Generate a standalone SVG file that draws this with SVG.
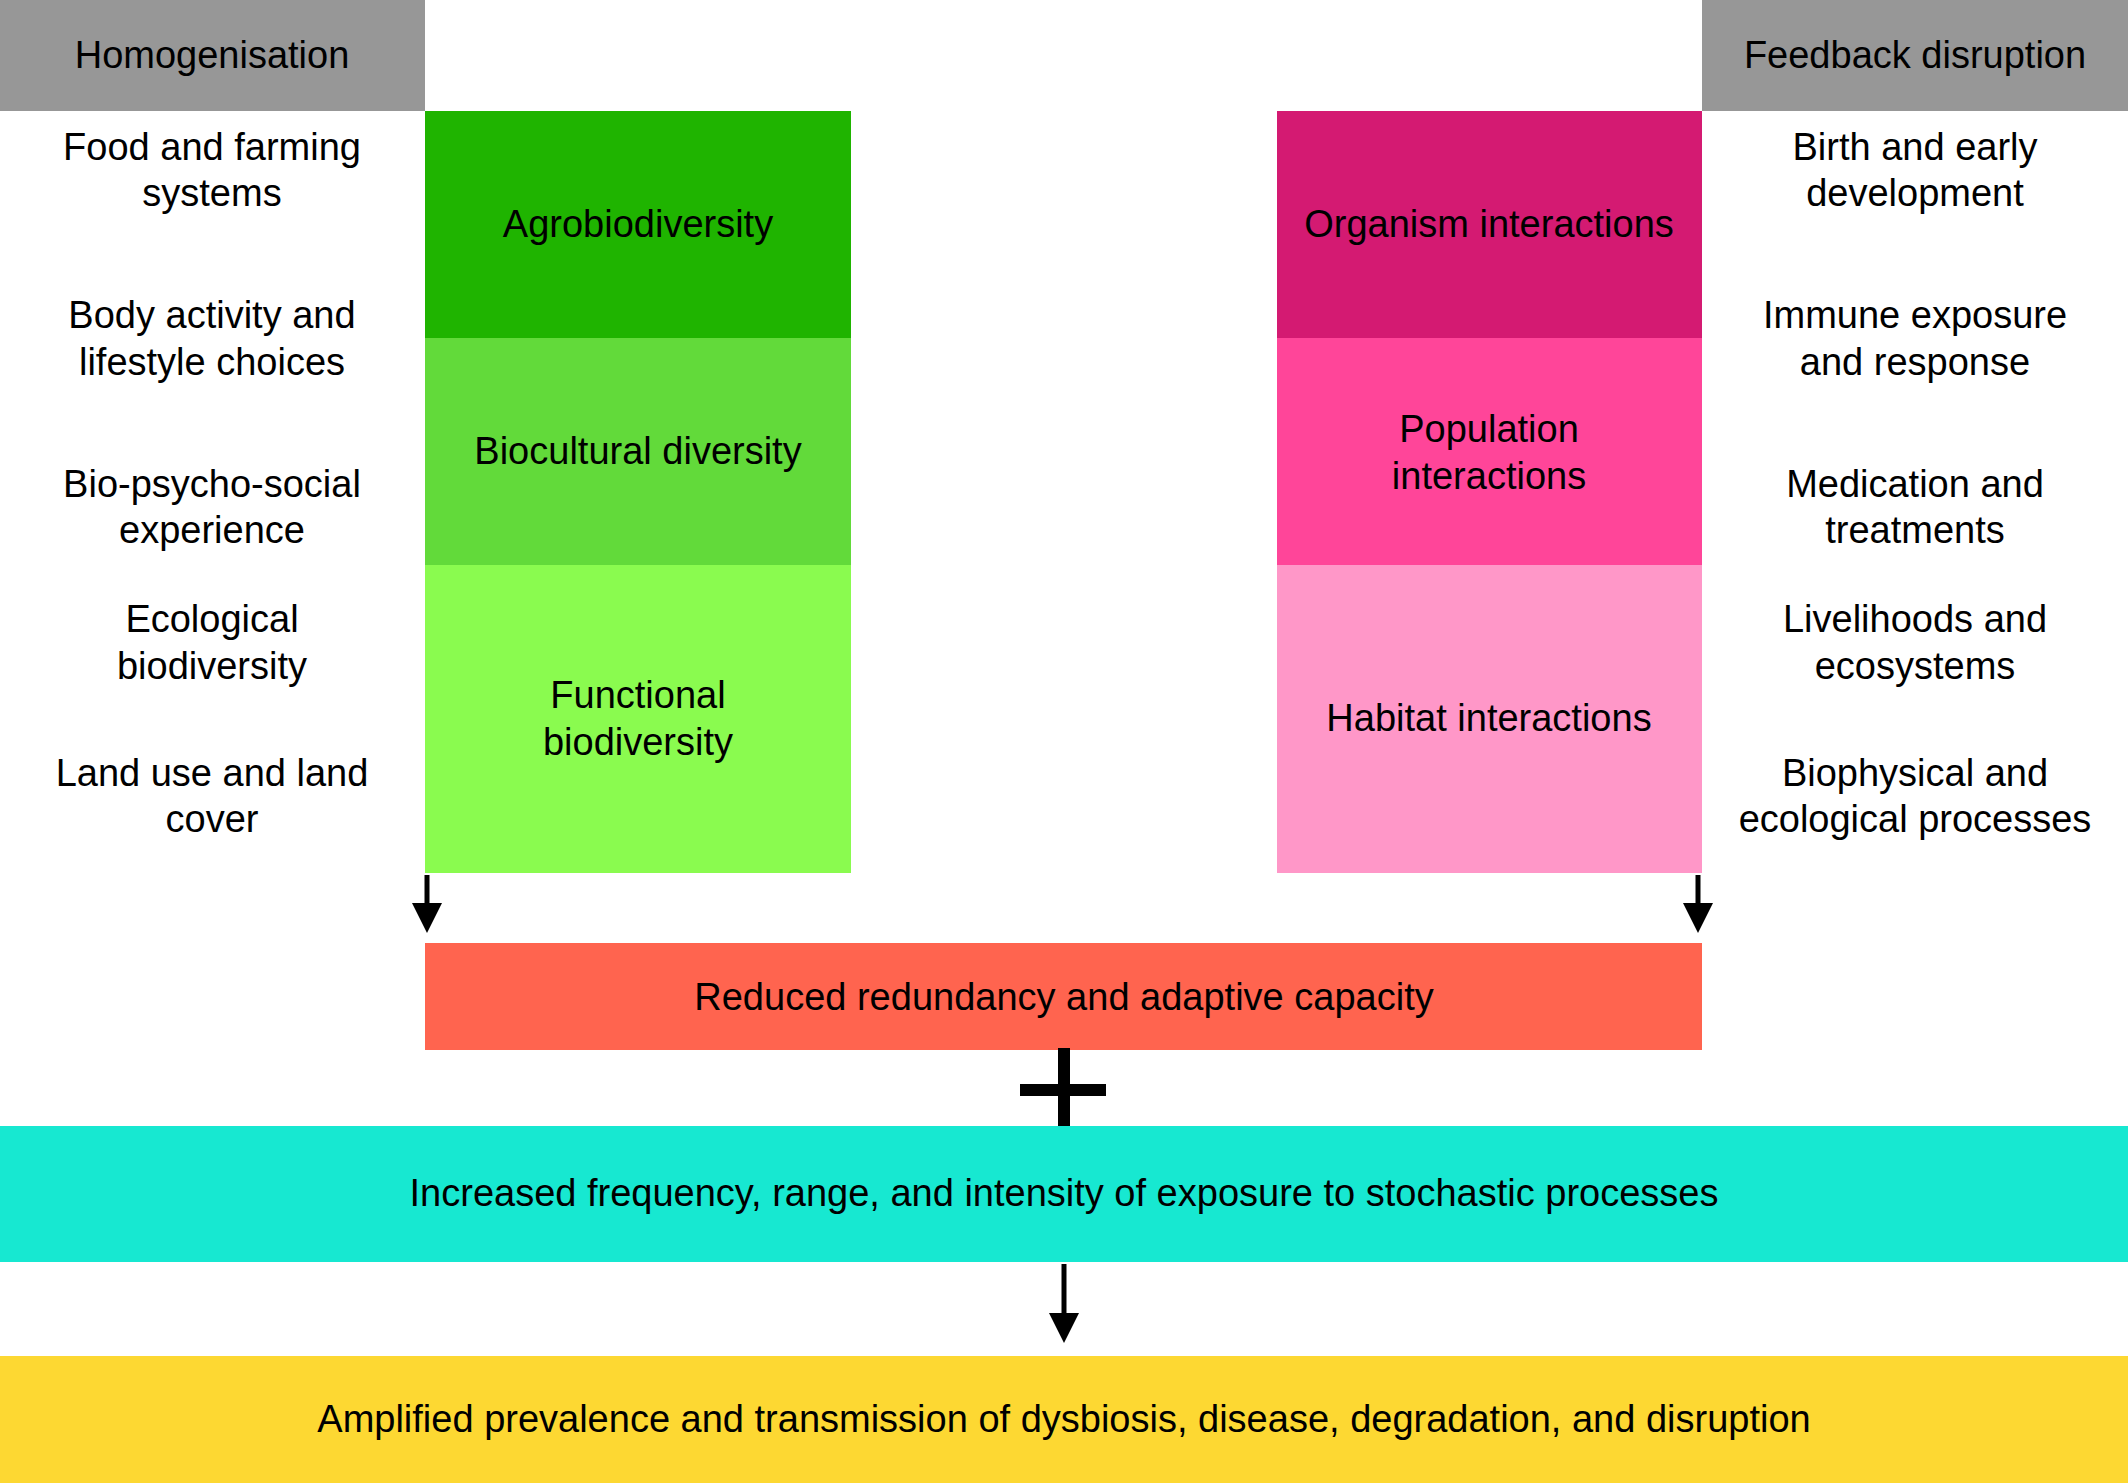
<svg xmlns="http://www.w3.org/2000/svg" width="2128" height="1483" viewBox="0 0 2128 1483">
<style>
text{font-family:"Liberation Sans",Arial,sans-serif;font-size:38px;fill:#000;text-anchor:middle}
.ln{stroke:#000;stroke-width:5;fill:none}
</style>
<defs><marker id="ah" markerWidth="6" markerHeight="6" refX="3" refY="3" orient="auto" markerUnits="strokeWidth"><path d="M0,0 L6,3 L0,6 z" fill="#000"/></marker></defs>
<rect width="2128" height="1483" fill="#fff"/>
<g id="hdr-left"><rect x="0" y="0" width="425" height="111" fill="#979797"/><text x="212" y="68">Homogenisation</text></g>
<g id="hdr-right"><rect x="1702" y="0" width="426" height="111" fill="#979797"/><text x="1915" y="68">Feedback disruption</text></g>
<g id="left-labels">
<text x="212" y="160">Food and farming</text><text x="212" y="206">systems</text>
<text x="212" y="328">Body activity and</text><text x="212" y="375">lifestyle choices</text>
<text x="212" y="497">Bio-psycho-social</text><text x="212" y="543">experience</text>
<text x="212" y="632">Ecological</text><text x="212" y="679">biodiversity</text>
<text x="212" y="786">Land use and land</text><text x="212" y="832">cover</text>
</g>
<g id="right-labels">
<text x="1915" y="160">Birth and early</text><text x="1915" y="206">development</text>
<text x="1915" y="328">Immune exposure</text><text x="1915" y="375">and response</text>
<text x="1915" y="497">Medication and</text><text x="1915" y="543">treatments</text>
<text x="1915" y="632">Livelihoods and</text><text x="1915" y="679">ecosystems</text>
<text x="1915" y="786">Biophysical and</text><text x="1915" y="832">ecological processes</text>
</g>
<g id="agro"><rect x="425" y="111" width="426" height="227" fill="#1fb400"/><text x="638" y="237">Agrobiodiversity</text></g>
<g id="biocult"><rect x="425" y="338" width="426" height="227" fill="#62da3a"/><text x="638" y="464">Biocultural diversity</text></g>
<g id="func"><rect x="425" y="565" width="426" height="308" fill="#8afb4f"/><text x="638" y="708">Functional</text><text x="638" y="755">biodiversity</text></g>
<g id="org"><rect x="1277" y="111" width="425" height="227" fill="#d41a72"/><text x="1489" y="237">Organism interactions</text></g>
<g id="pop"><rect x="1277" y="338" width="425" height="227" fill="#ff4599"/><text x="1489" y="442">Population</text><text x="1489" y="489">interactions</text></g>
<g id="hab"><rect x="1277" y="565" width="425" height="308" fill="#ff97c8"/><text x="1489" y="731">Habitat interactions</text></g>
<g id="reduced"><rect x="425" y="943" width="1277" height="107" fill="#ff644f"/><text x="1064" y="1010">Reduced redundancy and adaptive capacity</text></g>
<g id="plus"><rect x="1020" y="1084" width="86" height="12" fill="#000"/><rect x="1058" y="1048" width="12" height="84" fill="#000"/></g>
<g id="increased"><rect x="0" y="1126" width="2128" height="136" fill="#17e8d1"/><text x="1064" y="1206">Increased frequency, range, and intensity of exposure to stochastic processes</text></g>
<g id="amplified"><rect x="0" y="1356" width="2128" height="127" fill="#fdd832"/><text x="1064" y="1432">Amplified prevalence and transmission of dysbiosis, disease, degradation, and disruption</text></g>
<g id="connectors">
<line class="ln" x1="427" y1="875" x2="427" y2="918" marker-end="url(#ah)"/>
<line class="ln" x1="1698" y1="875" x2="1698" y2="918" marker-end="url(#ah)"/>
<line class="ln" x1="1064" y1="1264" x2="1064" y2="1328" marker-end="url(#ah)"/>
</g>
</svg>
